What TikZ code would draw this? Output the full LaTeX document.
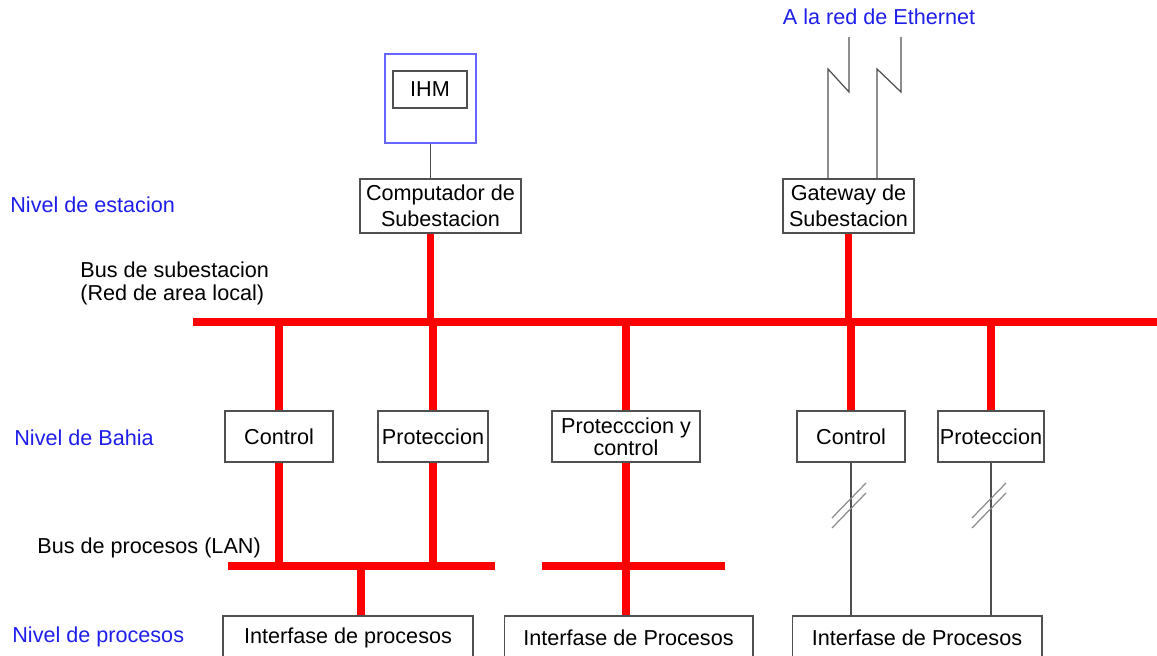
\documentclass[tikz,border=0pt]{standalone}
\usepackage{fontspec}
\setmainfont{Liberation Sans}
\usetikzlibrary{positioning}
\definecolor{nivblue}{RGB}{30,30,235}
\definecolor{framegray}{RGB}{80,80,80}

\begin{document}
\begin{tikzpicture}[x=0.02cm,y=-0.02cm,
    box/.style={rectangle,draw=framegray,line width=0.6pt,inner sep=0pt,align=center,font=\fontsize{12.3}{14.7}\selectfont},
    nivel/.style={anchor=west,text=nivblue,inner sep=0pt,font=\fontsize{12.3}{14.7}\selectfont},
    note/.style={anchor=west,inner sep=0pt,align=left,font=\fontsize{12.3}{13}\selectfont},
    bus/.style={red,line width=4pt},
    wire/.style={framegray,line width=0.7pt}]
    \useasboundingbox (0,0) rectangle (1157,656);
    % nivel de estacion
    \node[box,draw=blue!60,minimum width=1.82cm,minimum height=1.78cm] (ihmbox) at (430.5,98.5) {};
    \node[box,minimum width=1.48cm,minimum height=0.74cm] (ihm) at (430,89.5) {IHM};
    \node[box,minimum width=3.22cm,minimum height=1.08cm] (comp) at (440.5,206) {Computador de\\Subestacion};
    \node[box,minimum width=2.62cm,minimum height=1.08cm] (gw) at (848.5,206) {Gateway de\\Subestacion};
    \node[text=nivblue,inner sep=0pt,font=\fontsize{12.3}{14.7}\selectfont] (eth) at (879,17) {A la red de Ethernet};
    % nivel de bahia
    \node[box,minimum width=2.16cm,minimum height=1.02cm] (ctl1) at (279,436.5) {Control};
    \node[box,minimum width=2.2cm,minimum height=1.02cm] (prot1) at (433,436.5) {Proteccion};
    \node[box,minimum width=2.96cm,minimum height=1.02cm,font=\fontsize{12.3}{11}\selectfont] (pyc) at (626,436.5) {Protecccion y\\control};
    \node[box,minimum width=2.16cm,minimum height=1.02cm] (ctl2) at (851,436.5) {Control};
    \node[box,minimum width=2.12cm,minimum height=1.02cm] (prot2) at (991,436.5) {Proteccion};
    % nivel de procesos
    \node[box,minimum width=5cm,minimum height=0.88cm] (if1) at (348,638) {Interfase de procesos};
    \node[box,minimum width=4.98cm,minimum height=0.88cm] (if2) at (628.5,638) {Interfase de Procesos};
    \node[box,minimum width=5cm,minimum height=0.88cm] (if3) at (917,638) {Interfase de Procesos};
    % etiquetas
    \node[nivel] (nest) at (10,205) {Nivel de estacion};
    \node[note] (bsub) at (80,283.5) {Bus de subestacion\\(Red de area local)};
    \node[nivel] (nbah) at (14,438) {Nivel de Bahia};
    \node[note] (bproc) at (37,548) {Bus de procesos (LAN)};
    \node[nivel] (nproc) at (12,637) {Nivel de procesos};
    % buses
    \coordinate (sb1) at (193,322);
    \coordinate (sb2) at (1157,322);
    \coordinate (pb1a) at (228,566);
    \coordinate (pb1b) at (495,566);
    \coordinate (pb2a) at (542,566);
    \coordinate (pb2b) at (725,566);
    \coordinate (pbdrop) at (361,566);
    \coordinate (eth1) at (849,37);
    \coordinate (eth2) at (901,37);
    \draw[bus] (sb1)--(sb2);
    \draw[bus] (comp.south -| ihmbox.south)--(sb1 -| ihmbox.south);
    \draw[bus] (gw.south)--(gw.south |- sb1);
    \foreach \n in {ctl1,prot1,pyc,ctl2,prot2}
        \draw[bus] (\n.north)--(\n.north |- sb1);
    \draw[bus] (pb1a)--(pb1b);
    \draw[bus] (pb2a)--(pb2b);
    \draw[bus] (ctl1.south)--(ctl1.south |- pb1a);
    \draw[bus] (prot1.south)--(prot1.south |- pb1a);
    \draw[bus] (pbdrop)--(pbdrop |- if1.north);
    \draw[bus] (pyc.south)--(pyc.south |- if2.north);
    % enlaces
    \draw[wire] (ihmbox.south)--(ihmbox.south |- comp.north);
    \draw[wire] (eth1)--++(0,55)--++(-21,-23) coordinate (k1)--(k1 |- gw.north);
    \draw[wire] (eth2)--++(0,55)--++(-24,-23) coordinate (k2)--(k2 |- gw.north);
    \draw[wire] (ctl2.south)--(ctl2.south |- if3.north);
    \draw[wire] (prot2.south)--(prot2.south |- if3.north);
    \foreach \x in {851,991}
        \foreach \d in {0,10}
            \draw[wire,black!45] (\x-19,518+\d)--++(34,-35);
\end{tikzpicture}
\end{document}
